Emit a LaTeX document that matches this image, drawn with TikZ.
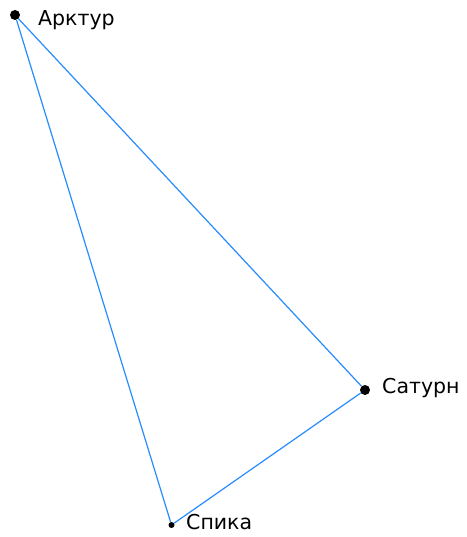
\documentclass[tikz,border=0pt]{standalone}
\usepackage{fontspec}
\setmainfont{DejaVu Sans}
\definecolor{linecol}{RGB}{40,140,255}
\begin{document}
\begin{tikzpicture}[x=1pt,y=-1pt,
  star/.style={circle,fill=black,inner sep=0pt},
  lbl/.style={font=\fontsize{20.5}{24}\selectfont,inner sep=0pt,anchor=west},
  conn/.style={draw=linecol,line width=1.2pt}]
\useasboundingbox[fill=white] (0,0) rectangle (466,537);
\node[star,minimum size=10pt] (arc) at (15,15) {};
\node[star,minimum size=10pt] (sat) at (365,390) {};
\node[star,minimum size=6pt] (spi) at (171.5,525) {};
\node[lbl] (arcl) at (38,20) {Арктур};
\node[lbl] (satl) at (382,388) {Сатурн};
\node[lbl] (spil) at (186,522) {Спика};
\draw[conn] (arc) -- (sat);
\draw[conn] (arc) -- (spi);
\draw[conn] (sat) -- (spi);
\end{tikzpicture}
\end{document}
